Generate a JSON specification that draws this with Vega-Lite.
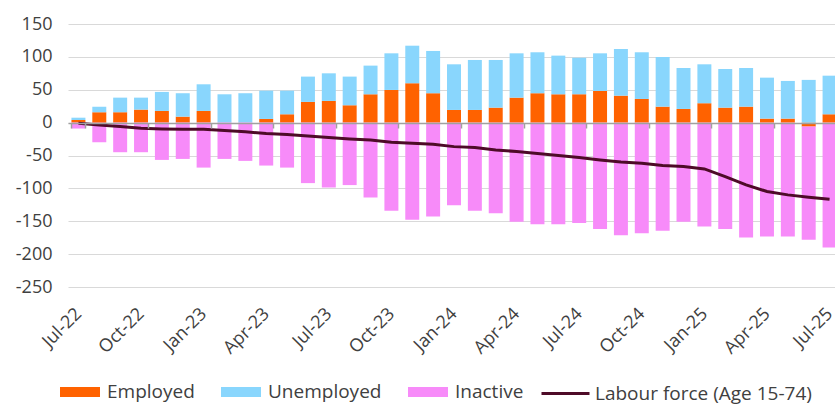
{
  "$schema": "https://vega.github.io/schema/vega-lite/v6.json",
  "width": 767,
  "height": 263,
  "autosize": {"type": "none"},
  "padding": {"left": 68, "top": 24, "right": 0, "bottom": 118},
  "background": "white",
  "config": {
    "view": {"stroke": null},
    "font": "Open Sans",
    "axis": {"labelOverlap": false},
    "axisY": {"labelOverlap": false},
    "legend": {"labelFont": "Open Sans", "labelFontSize": 19, "labelColor": "#404040", "padding": 0, "labelLimit": 400}
  },
  "data": {
    "values": [
      {"m": "Jul-22", "Employed": 4, "Unemployed": 3.5, "Inactive": -9, "LF": -1},
      {"m": "Aug-22", "Employed": 15.8, "Unemployed": 8.5, "Inactive": -29.8, "LF": -3.5},
      {"m": "Sep-22", "Employed": 15.8, "Unemployed": 22.2, "Inactive": -45, "LF": -6},
      {"m": "Oct-22", "Employed": 19.8, "Unemployed": 18.2, "Inactive": -45, "LF": -8.5},
      {"m": "Nov-22", "Employed": 17.8, "Unemployed": 28.9, "Inactive": -56.7, "LF": -9.6},
      {"m": "Dec-22", "Employed": 9.1, "Unemployed": 35.6, "Inactive": -55.2, "LF": -10},
      {"m": "Jan-23", "Employed": 17.8, "Unemployed": 40.5, "Inactive": -68.4, "LF": -10},
      {"m": "Feb-23", "Employed": 0, "Unemployed": 43.1, "Inactive": -55.2, "LF": -12},
      {"m": "Mar-23", "Employed": 0, "Unemployed": 44.7, "Inactive": -58.2, "LF": -14},
      {"m": "Apr-23", "Employed": 5.6, "Unemployed": 43, "Inactive": -65.3, "LF": -16.5},
      {"m": "May-23", "Employed": 12.7, "Unemployed": 35.9, "Inactive": -68.4, "LF": -18},
      {"m": "Jun-23", "Employed": 31.5, "Unemployed": 38.5, "Inactive": -92, "LF": -20.2},
      {"m": "Jul-23", "Employed": 33, "Unemployed": 42, "Inactive": -98.8, "LF": -22.8},
      {"m": "Aug-23", "Employed": 26.4, "Unemployed": 43.6, "Inactive": -95, "LF": -24.8},
      {"m": "Sep-23", "Employed": 43.1, "Unemployed": 43.6, "Inactive": -114, "LF": -26.3},
      {"m": "Oct-23", "Employed": 49.7, "Unemployed": 55.7, "Inactive": -134.2, "LF": -29.8},
      {"m": "Nov-23", "Employed": 59.9, "Unemployed": 57.1, "Inactive": -147.9, "LF": -31.3},
      {"m": "Dec-23", "Employed": 44.7, "Unemployed": 64.3, "Inactive": -142.9, "LF": -32.8},
      {"m": "Jan-24", "Employed": 19.3, "Unemployed": 69.4, "Inactive": -125.6, "LF": -36.5},
      {"m": "Feb-24", "Employed": 19.3, "Unemployed": 76, "Inactive": -134.2, "LF": -38},
      {"m": "Mar-24", "Employed": 22.8, "Unemployed": 72.5, "Inactive": -137.7, "LF": -41.5},
      {"m": "Apr-24", "Employed": 38, "Unemployed": 67.4, "Inactive": -150.9, "LF": -44},
      {"m": "May-24", "Employed": 44.7, "Unemployed": 62.3, "Inactive": -154.4, "LF": -47},
      {"m": "Jun-24", "Employed": 43.1, "Unemployed": 58.8, "Inactive": -154.4, "LF": -50},
      {"m": "Jul-24", "Employed": 43.1, "Unemployed": 55.7, "Inactive": -152.8, "LF": -53},
      {"m": "Aug-24", "Employed": 48.2, "Unemployed": 57.2, "Inactive": -161.6, "LF": -56.7},
      {"m": "Sep-24", "Employed": 41, "Unemployed": 71, "Inactive": -171.2, "LF": -60},
      {"m": "Oct-24", "Employed": 36, "Unemployed": 71, "Inactive": -168.1, "LF": -61.7},
      {"m": "Nov-24", "Employed": 24.3, "Unemployed": 75.5, "Inactive": -164.6, "LF": -65.3},
      {"m": "Dec-24", "Employed": 20.8, "Unemployed": 62.3, "Inactive": -150.9, "LF": -66.9},
      {"m": "Jan-25", "Employed": 29.5, "Unemployed": 59.2, "Inactive": -158, "LF": -70.4},
      {"m": "Feb-25", "Employed": 22.8, "Unemployed": 58.8, "Inactive": -161.6, "LF": -82},
      {"m": "Mar-25", "Employed": 24.3, "Unemployed": 58.8, "Inactive": -174.8, "LF": -94.7},
      {"m": "Apr-25", "Employed": 6.1, "Unemployed": 62.3, "Inactive": -173.2, "LF": -104.8},
      {"m": "May-25", "Employed": 6.1, "Unemployed": 57.3, "Inactive": -173.2, "LF": -109.9},
      {"m": "Jun-25", "Employed": -6, "Unemployed": 65, "Inactive": -172.3, "LF": -113.4},
      {"m": "Jul-25", "Employed": 12.7, "Unemployed": 58.7, "Inactive": -190, "LF": -116.4}
    ]
  },
  "layer": [
    {
      "transform": [{"fold": ["Employed", "Unemployed", "Inactive"], "as": ["series", "value"]}],
      "mark": {"type": "bar"},
      "encoding": {
        "x": {
          "field": "m",
          "type": "ordinal",
          "sort": null,
          "scale": {"range": [0, 772], "paddingInner": 0.33, "paddingOuter": 0.165},
          "axis": {
            "title": null,
            "values": ["Jul-22", "Oct-22", "Jan-23", "Apr-23", "Jul-23", "Oct-23", "Jan-24", "Apr-24", "Jul-24", "Oct-24", "Jan-25", "Apr-25", "Jul-25"],
            "offset": -164,
            "domainColor": "#a0a0a0",
            "domainWidth": 1.5,
            "tickColor": "#a0a0a0",
            "tickSize": 5,
            "tickWidth": 1.5,
            "tickBand": "extent",
            "labelAngle": -45,
            "labelAlign": "right",
            "labelBaseline": "middle",
            "labelPadding": 183,
            "labelDx": -7,
            "labelFontSize": 18,
            "labelColor": "#404040",
            "labelOverlap": false,
            "labelFlush": false,
            "labelBound": false,
            "grid": false,
            "zindex": 1
          }
        },
        "y": {
          "field": "value",
          "type": "quantitative",
          "scale": {"domain": [-250, 150], "nice": false},
          "axis": {
            "title": null,
            "values": [150, 100, 50, 0, -50, -100, -150, -200, -250],
            "labelExpr": "'' + datum.value",
            "labelOverlap": false,
            "domain": false,
            "ticks": false,
            "grid": true,
            "gridColor": "#d9d9d9",
            "gridWidth": 1,
            "labelFontSize": 18,
            "labelColor": "#404040",
            "labelPadding": 16
          }
        },
        "order": {"field": "series", "sort": "ascending"},
        "color": {
          "field": "series",
          "type": "nominal",
          "scale": {"domain": ["Employed", "Unemployed", "Inactive"], "range": ["#FF6200", "#89D6FD", "#F78BF9"]},
          "legend": {
            "title": null,
            "orient": "none",
            "direction": "horizontal",
            "legendX": -8,
            "legendY": 348,
            "symbolType": "M-1,-0.25H1V0.25H-1Z",
            "symbolSize": 1600,
            "symbolStrokeWidth": 0,
            "labelOffset": 7,
            "columnPadding": 26
          }
        }
      }
    },
    {
      "mark": {"type": "line", "strokeWidth": 3},
      "encoding": {
        "x": {"field": "m", "type": "ordinal", "sort": null},
        "y": {"field": "LF", "type": "quantitative", "axis": {"labelOverlap": false, "values": [150, 100, 50, 0, -50, -100, -150, -200, -250]}},
        "stroke": {
          "datum": "Labour force (Age 15-74)",
          "scale": {"range": ["#4E0B28"]},
          "legend": {
            "title": null,
            "orient": "none",
            "legendX": 476,
            "legendY": 348,
            "symbolType": "M-1.2,0H1.2",
            "symbolSize": 1600,
            "symbolStrokeWidth": 3,
            "labelOffset": 8
          }
        }
      }
    }
  ]
}
